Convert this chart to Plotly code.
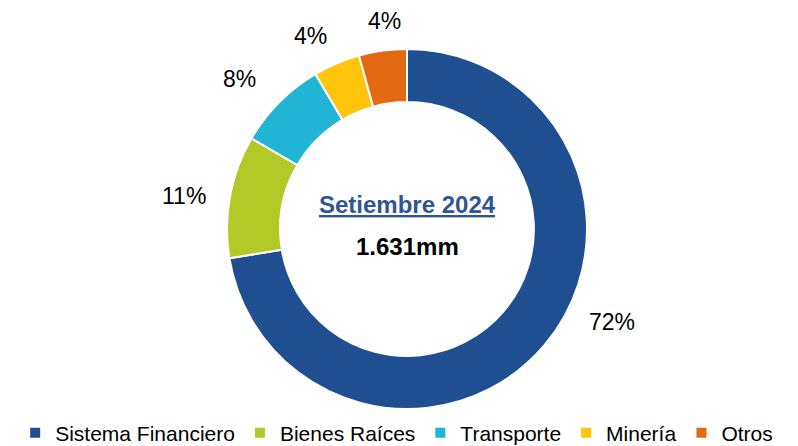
import math
import plotly.graph_objects as go

# ---- data ----
categories = ["Sistema Financiero", "Bienes Raíces", "Transporte", "Minería", "Otros"]
shares = [72.4, 11.0, 8.1, 4.2, 4.3]
center_title = "Setiembre 2024"
center_value = "1.631mm"

# ---- style ----
colors = ["#1F4E91", "#B2C927", "#22B4D5", "#FFC40C", "#E36A12"]
label_radius = [1.25, 1.25, 1.25, 1.20, 1.16]   # relative to outer radius
label_nudge_deg = [-16, -2, -3, -3.5, 1.5]       # Excel best-fit offsets
FONT = "Liberation Sans, Arial"
W, H = 790, 438             # page body has an 8px margin
cx, cy, R = 399, 221, 180   # pie center / radius in px (figure coords, from top-left)

fig = go.Figure(go.Pie(
    labels=categories,
    values=shares,
    sort=False,
    direction="clockwise",
    rotation=0,
    hole=0.705,
    marker=dict(colors=colors, line=dict(color="white", width=2)),
    textinfo="none",
    hoverinfo="label+percent",
    domain=dict(x=[(cx - R) / W, (cx + R) / W],
                y=[(H - cy - R) / H, (H - cy + R) / H]),
))

# percentage labels placed outside each slice, computed from the data
total = sum(shares)
cum = 0.0
annotations = []
for i, v in enumerate(shares):
    mid = (cum + v / 2) / total * 360 + label_nudge_deg[i]
    cum += v
    th = math.radians(mid)
    r = R * label_radius[i]
    px = cx + r * math.sin(th)
    py = cy - r * math.cos(th)
    annotations.append(dict(
        x=px / W, y=1 - py / H, xref="paper", yref="paper",
        text=f"{round(v / total * 100):.0f}%", showarrow=False,
        font=dict(family=FONT, size=23, color="#000000"),
        xanchor="center", yanchor="middle"))

annotations.append(dict(
    x=cx / W, y=1 - 196 / H, xref="paper", yref="paper",
    text=f"<b><u>{center_title}</u></b>", showarrow=False,
    font=dict(family=FONT, size=24, color="#2F5597"),
    xanchor="center", yanchor="middle"))
annotations.append(dict(
    x=cx / W, y=1 - 238 / H, xref="paper", yref="paper",
    text=f"<b>{center_value}</b>", showarrow=False,
    font=dict(family=FONT, size=24, color="#000000"),
    xanchor="center", yanchor="middle"))

fig.update_layout(
    width=W, height=H,
    margin=dict(l=0, r=0, t=0, b=0, autoexpand=False),
    paper_bgcolor="white",
    plot_bgcolor="white",
    showlegend=True,
    legend=dict(orientation="h", x=0.492, xanchor="center", y=1 - 425 / H, yanchor="middle",
                font=dict(family=FONT, size=21, color="#000000"),
                traceorder="normal", itemwidth=30, bgcolor="rgba(0,0,0,0)",
                tracegroupgap=0),
    annotations=annotations,
)

fig.write_html("out.html")
